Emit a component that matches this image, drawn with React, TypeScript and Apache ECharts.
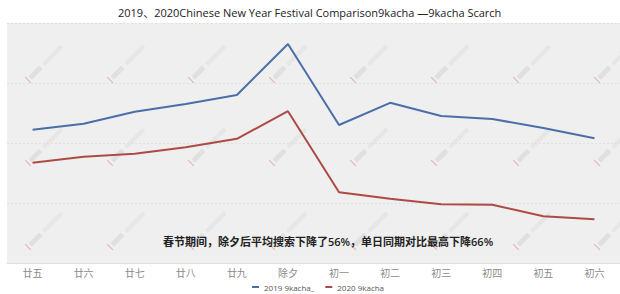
import React, { useEffect, useRef } from "react";
import * as echarts from "echarts";

const days = ["廿五", "廿六", "廿七", "廿八", "廿九", "除夕", "初一", "初二", "初三", "初四", "初五", "初六"];
const search2019 = [2.22, 2.32, 2.52, 2.65, 2.8, 3.65, 2.3, 2.67, 2.45, 2.4, 2.25, 2.08];
const search2020 = [1.67, 1.77, 1.82, 1.93, 2.07, 2.53, 1.18, 1.07, 0.98, 0.97, 0.78, 0.73];
const seriesNames = ["2019 9kacha_", "2020 9kacha"];
const titleText = "2019、2020Chinese New Year Festival Comparison9kacha —9kacha Scarch";
const noteText = "春节期间，除夕后平均搜索下降了56%，单日同期对比最高下降66%";

const FONT = "'Open Sans', 'Noto Sans CJK SC', sans-serif";

// faint stamp pattern tiled over the plot background
const stampCols = [28, 110, 191, 272, 353, 434, 516, 597];
const stampRows = [80, 163, 247];

function stamps() {
  const out: any[] = [];
  stampRows.forEach((y) => {
    stampCols.forEach((x) => {
      out.push({
        type: "group",
        x,
        y,
        rotation: Math.PI / 4,
        silent: true,
        z: 1,
        children: [
          { type: "line", shape: { x1: 0, y1: -4, x2: 0, y2: 4 }, style: { stroke: "#e6b4b1", lineWidth: 1.2 } },
          { type: "rect", shape: { x: 3, y: -2.5, width: 15, height: 5, r: 1 }, style: { fill: "#e0e0e0" } },
          { type: "rect", shape: { x: 22, y: -2, width: 26, height: 4, r: 1 }, style: { fill: "#e6e6e6" } },
        ],
      });
    });
  });
  return out;
}

export default function App() {
  const ref = useRef<HTMLDivElement>(null);

  useEffect(() => {
    if (!ref.current) return;
    const chart = echarts.init(ref.current, null, { renderer: "svg" });
    chart.setOption({
      animation: false,
      backgroundColor: "#ffffff",
      title: {
        text: titleText,
        left: 113,
        top: 2,
        textStyle: { fontFamily: FONT, fontSize: 11, fontWeight: "normal", color: "#222" },
      },
      legend: {
        top: 282,
        left: 252,
        padding: 0,
        itemWidth: 7,
        itemHeight: 2,
        itemGap: 11,
        icon: "rect",
        textStyle: { fontFamily: FONT, fontSize: 8, color: "#555", lineHeight: 10 },
        data: seriesNames,
      },
      grid: {
        left: 7,
        right: -5,
        top: 23,
        bottom: 31,
        show: true,
        backgroundColor: "#efefef",
        borderWidth: 0,
      },
      xAxis: {
        type: "category",
        data: days,
        boundaryGap: true,
        axisLine: { show: true, lineStyle: { color: "#e2e2e2", width: 1 } },
        axisTick: { show: false },
        axisLabel: { fontFamily: FONT, fontSize: 10, color: "#8a8a8a", margin: 5 },
      },
      yAxis: {
        type: "value",
        min: 0,
        max: 4,
        interval: 1,
        axisLabel: { show: false },
        axisLine: { show: false },
        axisTick: { show: false },
        splitLine: { lineStyle: { color: "#e0e0e0", type: [2, 2], width: 1 } },
      },
      graphic: [
        ...stamps(),
        {
          type: "text",
          left: 163,
          top: 236,
          z: 10,
          style: {
            text: noteText,
            fontFamily: FONT,
            fontSize: 11,
            fontWeight: 600,
            fill: "#222",
          },
        },
      ],
      series: [
        {
          name: seriesNames[0],
          type: "line",
          data: search2019,
          symbol: "none",
          z: 5,
          lineStyle: { color: "#4a6fa8", width: 2 },
          itemStyle: { color: "#4a6fa8" },
        },
        {
          name: seriesNames[1],
          type: "line",
          data: search2020,
          symbol: "none",
          z: 5,
          lineStyle: { color: "#ad4a45", width: 2 },
          itemStyle: { color: "#ad4a45" },
        },
      ],
    });
    return () => chart.dispose();
  }, []);

  return (
    <div
      ref={ref}
      style={{ position: "absolute", left: 0, top: 0, width: 620, height: 294 }}
    />
  );
}
